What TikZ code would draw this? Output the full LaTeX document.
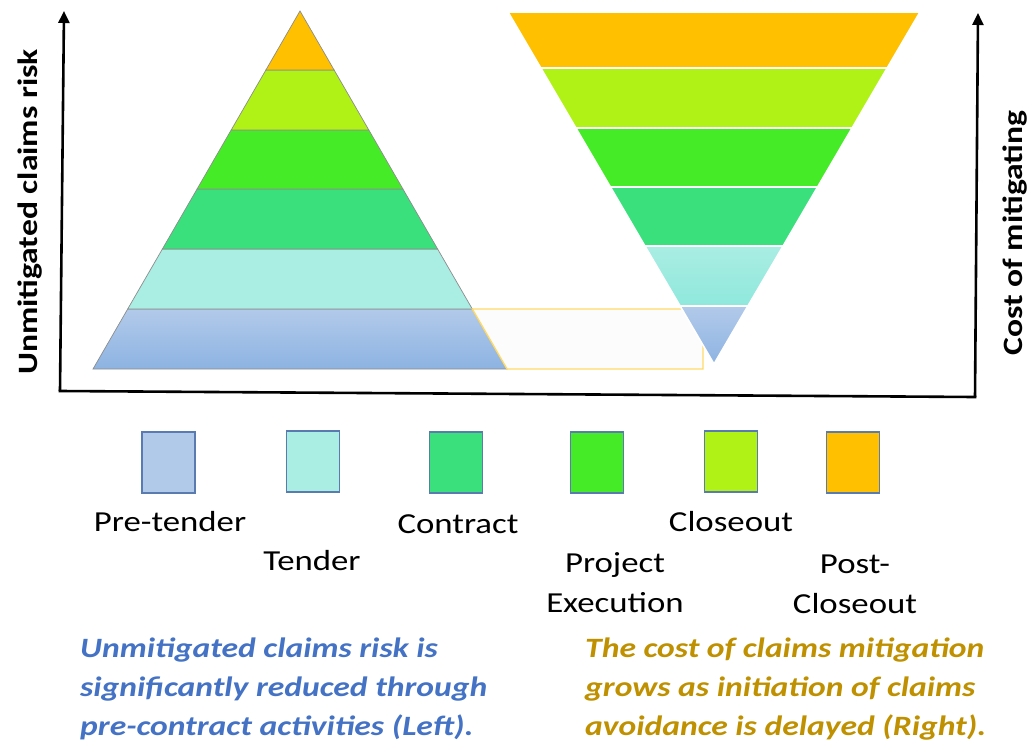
\documentclass[tikz,border=0pt]{standalone}
\usepackage{fontspec}
\setmainfont{Carlito}[FakeStretch=1.2]
\usetikzlibrary{arrows.meta}
\definecolor{cOrange}{HTML}{FFC000}
\definecolor{cLime}{HTML}{B0F216}
\definecolor{cGreen}{HTML}{46EB27}
\definecolor{cTeal}{HTML}{3AE07C}
\definecolor{cCyan}{HTML}{AAEDE3}
\definecolor{cCyanB}{HTML}{8FE8DC}
\definecolor{cBlueT}{HTML}{B2CAEA}
\definecolor{cBlueB}{HTML}{8DB3E2}
\definecolor{cBorder}{HTML}{5A7BB0}
\definecolor{cYellowLine}{HTML}{FFD966}
\definecolor{cLeftText}{HTML}{4472C4}
\definecolor{cRightText}{HTML}{BF9000}
\tikzset{
  pyr/.style={draw=black!45, line width=0.7pt},
  inv/.style={draw=white, line width=1.6pt},
  axis/.style={line width=2.6pt, black},
  axisarrow/.style={axis, -{Triangle[width=11pt,length=12pt]}},
  axlabel/.style={font=\fontsize{28}{32}\selectfont\bfseries},
  legbox/.style={draw=cBorder, line width=1.4pt, minimum width=53pt, minimum height=61pt, inner sep=0pt},
  leglabel/.style={font=\fontsize{29}{40}\selectfont, align=center, inner sep=0pt},
  note/.style={font=\fontsize{28}{39}\selectfont\bfseries\itshape, align=left, anchor=west, inner sep=0pt}
}
\begin{document}
\begin{tikzpicture}[x=1pt, y=-1pt]
\useasboundingbox (0,0) rectangle (1032,749);
% Left pyramid
\shade[pyr, top color=cBlueT, bottom color=cBlueB] (127.7,309) -- (472.3,309) -- (507,369) -- (93,369) -- cycle;
\fill[cCyan] (162.4,249) -- (437.6,249) -- (472.3,309) -- (127.7,309) -- cycle;
\draw[pyr] (162.4,249) -- (437.6,249) -- (472.3,309) -- (127.7,309) -- cycle;
\filldraw[pyr, fill=cTeal] (197.1,189) -- (402.9,189) -- (437.6,249) -- (162.4,249) -- cycle;
\filldraw[pyr, fill=cGreen] (231.2,130) -- (368.8,130) -- (402.9,189) -- (197.1,189) -- cycle;
\filldraw[pyr, fill=cLime] (265.9,70) -- (334.1,70) -- (368.8,130) -- (231.2,130) -- cycle;
\filldraw[pyr, fill=cOrange] (300,11) -- (334.1,70) -- (265.9,70) -- cycle;
% pale rectangle
\filldraw[draw=cYellowLine, fill=black!1, line width=1.4pt] (472.3,309) -- (703,309) -- (703,369) -- (507,369) -- cycle;
% Right inverted triangle
\filldraw[inv, fill=cOrange] (508,12) -- (920,12) -- (887.2,68) -- (540.8,68) -- cycle;
\filldraw[inv, fill=cLime] (540.8,68) -- (887.2,68) -- (852.1,128) -- (575.9,128) -- cycle;
\filldraw[inv, fill=cGreen] (575.9,128) -- (852.1,128) -- (817.6,187) -- (610.4,187) -- cycle;
\filldraw[inv, fill=cTeal] (610.4,187) -- (817.6,187) -- (783.1,246) -- (644.9,246) -- cycle;
\shade[inv, top color=cCyan, bottom color=cCyanB] (644.9,246) -- (783.1,246) -- (747.9,306) -- (680.1,306) -- cycle;
\shade[inv, top color=cBlueT, bottom color=cBlueB] (680.1,306) -- (747.9,306) -- (714,364) -- cycle;
% Axes
\coordinate (o) at (60,391);
\coordinate (ytop) at (64,11);
\coordinate (xend) at (975,397);
\coordinate (rtop) at (978,13);
\draw[axisarrow] (o) -- (ytop);
\draw[axis, line cap=rect] (o) -- (xend);
\draw[axisarrow] (xend) -- (rtop);
\node[axlabel, rotate=90] (lab1) at (30,212) {Unmitigated claims risk};
\node[axlabel, rotate=90] (lab2) at (1015,233) {Cost of mitigating};
% Legend
\node[legbox, fill=cBlueT] (b1) at (168.5,462.5) {};
\node[legbox, fill=cCyan] (b2) at (313,461.5) {};
\node[legbox, fill=cTeal] (b3) at (456,462.5) {};
\node[legbox, fill=cGreen] (b4) at (597,462.5) {};
\node[legbox, fill=cLime] (b5) at (731,461.5) {};
\node[legbox, fill=cOrange] (b6) at (853,462.5) {};
\node[leglabel] (t1) at (170,522) {Pre-tender};
\node[leglabel] (t2) at (312,561) {Tender};
\node[leglabel] (t3) at (458,524) {Contract};
\node[leglabel] (t4) at (615,583) {Project\\Execution};
\node[leglabel] (t5) at (731,522) {Closeout};
\node[leglabel] (t6) at (855,584) {Post-\\Closeout};
% Notes
\node[note, text=cLeftText] (n1) at (80,689) {Unmitigated claims risk is\\significantly reduced through\\pre-contract activities (Left).};
\node[note, text=cRightText] (n2) at (585,689) {The cost of claims mitigation\\grows as initiation of claims\\avoidance is delayed (Right).};
\end{tikzpicture}
\end{document}
